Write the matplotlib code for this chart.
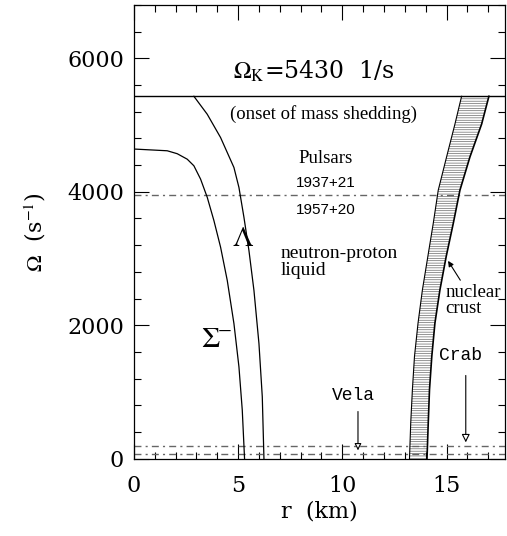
import numpy as np
import matplotlib
matplotlib.use('Agg')
import matplotlib.pyplot as plt
from matplotlib.ticker import MultipleLocator

plt.rcParams['mathtext.fontset'] = 'stix'
plt.rcParams['hatch.linewidth'] = 0.45

# rotation frequencies (1/s)
omega_K = 5430
omega_1937 = 3950
omega_crab = 190
omega_vela = 70

# Sigma- threshold curve
sigma_r = [0, 1.6, 2.08, 2.56, 2.88, 3.2, 3.52, 3.84, 4.16, 4.48, 4.8, 5.04, 5.2, 5.31]
sigma_w = [4640, 4614, 4570, 4488, 4389, 4190, 3917, 3568, 3170, 2672, 2026, 1379, 730, 0]

# Lambda threshold curve
lambda_r = [2.88, 3.52, 4.16, 4.8, 5.04, 5.28, 5.52, 5.76, 6.0, 6.16, 6.24]
lambda_w = [5430, 5161, 4812, 4364, 4065, 3618, 3120, 2523, 1727, 930, 0]

# nuclear crust band
crust_w = [0, 538, 1036, 1534, 2032, 2530, 3029, 3526, 4024, 4522, 5013, 5430]
crust_in = [13.22, 13.28, 13.36, 13.46, 13.63, 13.84, 14.1, 14.36, 14.6, 15.0, 15.4, 15.72]
crust_out = [14.06, 14.12, 14.18, 14.29, 14.44, 14.68, 14.98, 15.32, 15.64, 16.12, 16.68, 17.03]

fig = plt.figure(figsize=(5.07, 5.36), dpi=100)
ax = fig.add_axes([0.264, 0.144, 0.732, 0.847])

dd = (0, (5, 3, 1.5, 3))
ax.axhline(omega_K, color='k', lw=1.0)
ax.axhline(omega_1937, color='0.4', lw=1.0, ls=dd)
ax.axhline(omega_crab, color='0.4', lw=1.0, ls=dd)
ax.axhline(omega_vela, color='0.4', lw=1.0, ls=dd)

ax.plot(sigma_r, sigma_w, 'k-', lw=0.9)
ax.plot(lambda_r, lambda_w, 'k-', lw=0.9)

ax.fill_betweenx(crust_w, crust_in, crust_out, facecolor='white',
                 edgecolor='0.35', hatch='-------', lw=0)
ax.plot(crust_in, crust_w, 'k-', lw=0.8)
ax.plot(crust_out, crust_w, 'k-', lw=1.2)

ax.set_xlim(0, 17.8)
ax.set_ylim(0, 6800)
ax.xaxis.set_major_locator(MultipleLocator(5))
ax.xaxis.set_minor_locator(MultipleLocator(1))
ax.yaxis.set_major_locator(MultipleLocator(2000))
ax.yaxis.set_minor_locator(MultipleLocator(400))
ax.tick_params(which='both', direction='in', top=True, right=True, width=0.8)
ax.tick_params(which='major', length=11)
ax.tick_params(which='minor', length=5)
ax.tick_params(labelsize=16)
ax.tick_params(axis='x', pad=12)
ax.tick_params(axis='y', pad=7)
for lab in ax.get_xticklabels() + ax.get_yticklabels():
    lab.set_family('DejaVu Serif')
for s in ax.spines.values():
    s.set_linewidth(0.9)

ax.set_xlabel('r  (km)', fontsize=16, family='DejaVu Serif', labelpad=2)
ax.set_ylabel(r'$\Omega$  (s$^{-1}$)', fontsize=16, family='DejaVu Serif', labelpad=14)

ax.text(8.65, 5800, r'$\Omega_{\rm K}$=5430  1/s', fontsize=17, family='DejaVu Serif',
        ha='center', va='center')
ax.text(9.1, 5160, '(onset of mass shedding)', fontsize=13.5, family='Liberation Serif',
        ha='center', va='center')
ax.text(9.2, 4500, 'Pulsars', fontsize=13.5, family='Liberation Serif', ha='center', va='center')
ax.text(9.2, 4130, '1937+21', fontsize=11, family='Liberation Sans', ha='center', va='center')
ax.text(9.2, 3720, '1957+20', fontsize=11, family='Liberation Sans', ha='center', va='center')
ax.text(7.05, 2950, 'neutron-proton\nliquid', fontsize=14, family='Liberation Serif',
        ha='left', va='center', linespacing=1.0)
ax.text(5.22, 3300, r'$\Lambda$', fontsize=21, ha='center', va='center')
ax.text(3.95, 1800, r'$\Sigma^{\!\!-}$', fontsize=21, ha='center', va='center')
ax.text(14.95, 2370, 'nuclear\ncrust', fontsize=13.5, family='Liberation Serif',
        ha='left', va='center', linespacing=0.95)
ax.annotate('', xy=(15.0, 3000), xytext=(15.73, 2640),
            arrowprops=dict(arrowstyle='-|>', color='k', lw=0.8, mutation_scale=8))

ax.text(15.65, 1550, 'Crab', fontsize=13, family='Liberation Mono', ha='center', va='center')
ax.annotate('', xy=(15.92, 205), xytext=(15.92, 1290),
            arrowprops=dict(arrowstyle='-|>', fc='white', ec='k', lw=0.8, mutation_scale=12))
ax.text(10.55, 950, 'Vela', fontsize=13, family='Liberation Mono', ha='center', va='center')
ax.annotate('', xy=(10.75, 85), xytext=(10.75, 750),
            arrowprops=dict(arrowstyle='-|>', fc='white', ec='k', lw=0.8, mutation_scale=10))

fig.savefig('out.png', dpi=100)
